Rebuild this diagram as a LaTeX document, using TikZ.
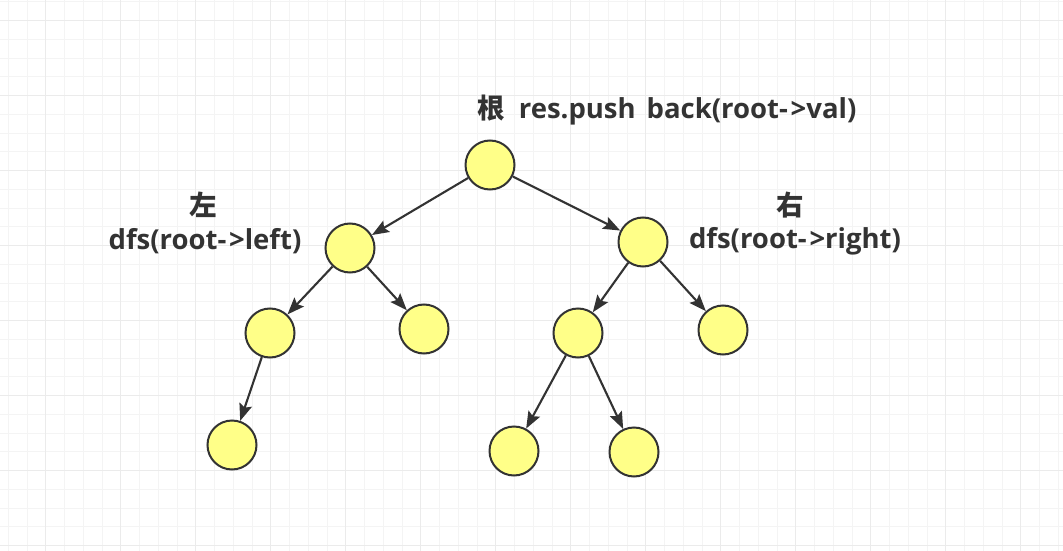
\documentclass[tikz,border=0pt]{standalone}
\usepackage{fontspec}
\setmainfont{Open Sans}
\newfontfamily\cjk{Noto Sans CJK SC}
\usetikzlibrary{arrows.meta}
\definecolor{nodefill}{HTML}{FFFF88}
\definecolor{ink}{HTML}{333333}
\tikzset{
    treenode/.style={circle, draw=ink, fill=nodefill, line width=2pt, minimum size=49pt, inner sep=0pt},
    edge/.style={draw=ink, line width=2.1pt, -{Stealth[length=17pt,width=13pt,inset=3pt]}},
    note/.style={text=ink, font=\fontsize{27.5}{31}\selectfont\bfseries, inner sep=0pt}
}
\begin{document}
\begin{tikzpicture}[x=1pt,y=-1pt]
    \useasboundingbox (0,0) rectangle (1063,551);
    \fill[white] (0,0) rectangle (1063,551);

    % background grid
    \foreach \i in {0,...,56}
    {
        \draw[gray!9, line width=0.8pt] (8.3+18.75*\i,0) -- (8.3+18.75*\i,551);
    }
    \foreach \j in {0,...,29}
    {
        \draw[gray!9, line width=0.8pt] (0,1.7+18.75*\j) -- (1063,1.7+18.75*\j);
    }
    \foreach \i in {0,...,13}
    {
        \draw[gray!16, line width=0.8pt] (45.7+75*\i,0) -- (45.7+75*\i,551);
    }
    \foreach \j in {0,...,7}
    {
        \draw[gray!16, line width=0.8pt] (0,20.7+75*\j) -- (1063,20.7+75*\j);
    }

    % tree
    \node[treenode] (root) at (490,165) {};
    \node[treenode] (l)    at (350,248) {};
    \node[treenode] (r)    at (643,242) {};
    \node[treenode] (ll)   at (270,333) {};
    \node[treenode] (lr)   at (424,329) {};
    \node[treenode] (rl)   at (578,333) {};
    \node[treenode] (rr)   at (723,330) {};
    \node[treenode] (lll)  at (232,445) {};
    \node[treenode] (rll)  at (514,451) {};
    \node[treenode] (rlr)  at (634,452) {};

    \draw[edge] (root) -- (l);
    \draw[edge] (root) -- (r);
    \draw[edge] (l) -- (ll);
    \draw[edge] (l) -- (lr);
    \draw[edge] (ll) -- (lll);
    \draw[edge] (r) -- (rl);
    \draw[edge] (r) -- (rr);
    \draw[edge] (rl) -- (rll);
    \draw[edge] (rl) -- (rlr);

    % labels
    \node[note] (rootnote) at (667,110) {{\cjk 根}\hspace{0.5em}res.push\hspace{0.4em}back(root-\hspace{0.1em}>val)};
    \node[note] (lefthead) at (203,205) {\cjk 左};
    \node[note] (leftnote) at (205,241) {dfs(root-\hspace{0.1em}>left)};
    \node[note] (righthead) at (790,205) {\cjk 右};
    \node[note] (rightnote) at (795,241) {dfs(root-\hspace{0.1em}>right)};
\end{tikzpicture}
\end{document}
